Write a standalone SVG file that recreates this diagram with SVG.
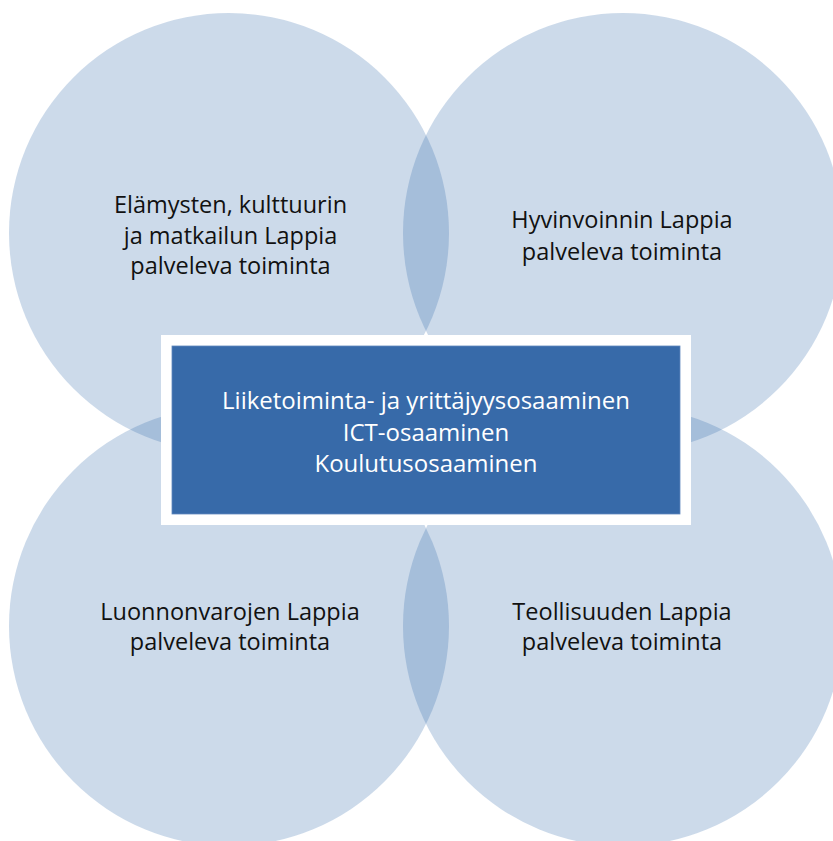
<svg xmlns="http://www.w3.org/2000/svg" width="833" height="841" viewBox="0 0 833 841">
  <style>
    .circle { fill: #2f65a7; fill-opacity: 0.245; }
    .lbl { font-family: "Open Sans", "Noto Sans", "Liberation Sans", sans-serif; font-size: 23.5px; fill: #111111; text-anchor: middle; }
    .core { font-family: "Open Sans", "Noto Sans", "Liberation Sans", sans-serif; font-size: 24px; fill: #ffffff; text-anchor: middle; }
  </style>
  <rect x="0" y="0" width="833" height="841" fill="#ffffff"/>
  <g id="node-elamysten">
    <circle class="circle" cx="229" cy="233" r="220"/>
    <text class="lbl" x="230.5" y="213">Elämysten, kulttuurin</text>
    <text class="lbl" x="230.5" y="243.5">ja matkailun Lappia</text>
    <text class="lbl" x="230.5" y="274">palveleva toiminta</text>
  </g>
  <g id="node-hyvinvointi">
    <circle class="circle" cx="623" cy="233" r="220"/>
    <text class="lbl" x="622" y="228">Hyvinvoinnin Lappia</text>
    <text class="lbl" x="622" y="260">palveleva toiminta</text>
  </g>
  <g id="node-luonnonvarat">
    <circle class="circle" cx="229" cy="626" r="220"/>
    <text class="lbl" x="230" y="620">Luonnonvarojen Lappia</text>
    <text class="lbl" x="230" y="650">palveleva toiminta</text>
  </g>
  <g id="node-teollisuus">
    <circle class="circle" cx="623" cy="626" r="220"/>
    <text class="lbl" x="622" y="620">Teollisuuden Lappia</text>
    <text class="lbl" x="622" y="650">palveleva toiminta</text>
  </g>
  <g id="node-core">
    <rect x="161" y="335" width="530" height="190" fill="#ffffff"/>
    <rect x="172" y="346" width="508" height="168" fill="#376aa9" stroke="#5f88bd" stroke-width="0.8"/>
    <text class="core" x="426" y="409">Liiketoiminta- ja yrittäjyysosaaminen</text>
    <text class="core" x="426" y="440.5">ICT-osaaminen</text>
    <text class="core" x="426" y="472">Koulutusosaaminen</text>
  </g>
  <g id="connectors"/>
</svg>
